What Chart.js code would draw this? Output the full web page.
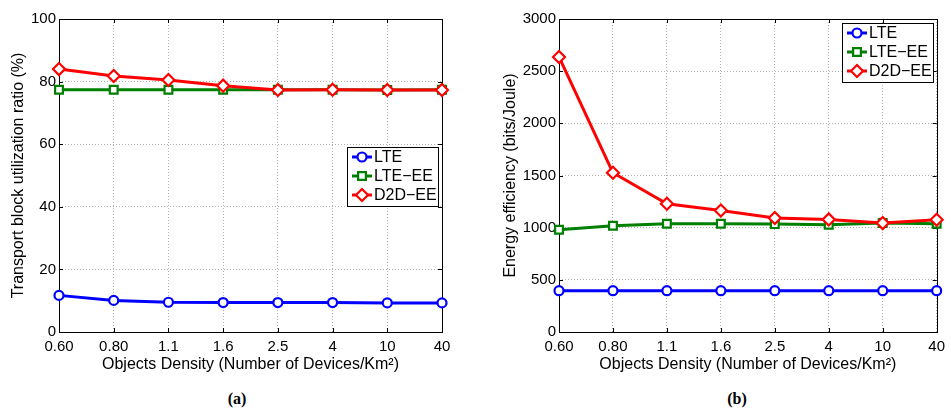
<!DOCTYPE html>
<html>
<head>
<meta charset="utf-8">
<script src="https://cdn.jsdelivr.net/npm/chart.js@4.4.0/dist/chart.umd.min.js"></script>
<style>
body { margin:0; background:#fff; width:951px; height:412px; position:relative; overflow:hidden; }
.box { position:absolute; top:0; height:380px; }
.cap { position:absolute; top:390px; width:80px; text-align:center; font: bold 16px "Liberation Serif", "DejaVu Serif", serif; }
</style>
</head>
<body>
<div class="box" style="left:0;width:475px"><canvas id="chartA"></canvas></div>
<div class="box" style="left:480px;width:471px"><canvas id="chartB"></canvas></div>
<div class="cap" style="left:197px">(a)</div>
<div class="cap" style="left:697px">(b)</div>
<script>
var densidade = ['0.60', '0.80', '1.1', '1.6', '2.5', '4', '10', '40'];
var nomes = ['LTE', 'LTE\u2212EE', 'D2D\u2212EE'];

// (a) transport block utilization ratio (%)
var utilLTE = [11.7, 10.1, 9.5, 9.4, 9.4, 9.4, 9.3, 9.3];
var utilLTEEE = [77.4, 77.4, 77.4, 77.4, 77.4, 77.4, 77.3, 77.4];
var utilD2D = [84.0, 81.8, 80.5, 78.7, 77.3, 77.4, 77.3, 77.3];

// (b) energy efficiency (bits/Joule)
var energiaLTE = [396, 396, 396, 396, 396, 396, 396, 396];
var energiaLTEEE = [980, 1018, 1037, 1037, 1034, 1028, 1044, 1037];
var energiaD2D = [2636, 1526, 1229, 1165, 1092, 1079, 1044, 1076];

var cores = ['#0000ff', '#008000', '#ff0000'];
var estilos = ['circle', 'rect', 'rectRot'];
var raios = [4.5, 5.5, 6];

Chart.defaults.font.family = '"Liberation Sans", Arial, sans-serif';
Chart.defaults.font.size = 15;
Chart.defaults.color = '#000';

// caixa preta em volta do grafico + marcas de escala para dentro (estilo matlab)
var moldura = {
  id: 'moldura',
  beforeDatasetsDraw(chart) {
    var ctx = chart.ctx, a = chart.chartArea;
    var sx = chart.scales.x, sy = chart.scales.y;
    ctx.save();
    ctx.strokeStyle = '#000';
    ctx.lineWidth = 1;
    ctx.strokeRect(Math.round(a.left) + 0.5, Math.round(a.top) + 0.5, Math.round(a.right - a.left), Math.round(a.bottom - a.top));
    ctx.beginPath();
    sy.ticks.forEach(function (t, i) {
      var y = Math.round(sy.getPixelForTick(i)) + 0.5;
      ctx.moveTo(a.left, y); ctx.lineTo(a.left + 4, y);
      ctx.moveTo(a.right, y); ctx.lineTo(a.right - 4, y);
    });
    sx.ticks.forEach(function (t, i) {
      var x = Math.round(sx.getPixelForTick(i)) + 0.5;
      ctx.moveTo(x, a.bottom); ctx.lineTo(x, a.bottom - 4);
      ctx.moveTo(x, a.top); ctx.lineTo(x, a.top + 4);
    });
    ctx.stroke();
    ctx.restore();
  }
};

var legendaMatlab = {
  id: 'legendaMatlab',
  afterDatasetsDraw(chart, args, opts) {
    var ctx = chart.ctx, a = chart.chartArea;
    var w = 91, h = 59;
    var x = Math.round(a.right - opts.right - w), y = Math.round(a.top + opts.top);
    ctx.save();
    ctx.fillStyle = '#fff';
    ctx.fillRect(x, y, w, h);
    ctx.strokeStyle = '#000';
    ctx.lineWidth = 1;
    ctx.strokeRect(x + 0.5, y + 0.5, w, h);
    chart.data.datasets.forEach(function (ds, i) {
      var yy = y + 10 + i * 19;
      ctx.strokeStyle = ds.borderColor;
      ctx.lineWidth = ds.borderWidth;
      ctx.beginPath();
      ctx.moveTo(x + 5, yy);
      ctx.lineTo(x + 25, yy);
      ctx.stroke();
      ctx.fillStyle = '#fff';
      ctx.lineWidth = ds.pointBorderWidth;
      Chart.helpers.drawPoint(ctx, { pointStyle: ds.pointStyle, radius: ds.pointRadius, rotation: 0, borderWidth: ds.pointBorderWidth }, x + 15, yy);
      ctx.fillStyle = '#000';
      ctx.font = '16px "Liberation Sans", Arial, sans-serif';
      ctx.textBaseline = 'middle';
      ctx.textAlign = 'left';
      ctx.fillText(ds.label, x + 27, yy + 1);
    });
    ctx.restore();
  }
};

function montaSeries(valores) {
  return valores.map(function (v, i) {
    return {
      label: nomes[i],
      data: v,
      borderColor: cores[i],
      backgroundColor: '#fff',
      borderWidth: 3,
      pointStyle: estilos[i],
      pointRadius: raios[i],
      pointBorderWidth: 2.2,
      pointBackgroundColor: '#fff',
      tension: 0,
      clip: false,
      order: 2 - i
    };
  });
}

function montaGrafico(id, valores, yMax, passo, tituloY, larguraY, padTitulo, padDireita, legTopo) {
  new Chart(document.getElementById(id), {
    type: 'line',
    data: { labels: densidade, datasets: montaSeries(valores) },
    options: {
      responsive: true,
      maintainAspectRatio: false,
      animation: false,
      layout: { padding: { top: 19, right: padDireita, left: 0, bottom: 0 } },
      plugins: {
        legend: { display: false },
        tooltip: { enabled: false },
        legendaMatlab: { right: 4, top: legTopo }
      },
      scales: {
        x: {
          grid: { color: '#b0b0b0', drawTicks: false },
          border: { display: false, dash: [1, 2] },
          ticks: { padding: 6, maxRotation: 0, autoSkip: false },
          title: { display: true, text: 'Objects Density (Number of Devices/Km\u00b2)', font: { size: 16 }, padding: { top: 0, bottom: 6 } },
          afterFit: function (s) { s.height = 48; }
        },
        y: {
          min: 0,
          max: yMax,
          grid: { color: '#b0b0b0', drawTicks: false },
          border: { display: false, dash: [1, 2] },
          ticks: { stepSize: passo, padding: 3, callback: function (v) { return String(v); } },
          title: { display: true, text: tituloY, font: { size: 16 }, padding: { top: padTitulo, bottom: 0 } },
          afterFit: function (s) { s.width = larguraY; }
        }
      }
    },
    plugins: [moldura, legendaMatlab]
  });
}

montaGrafico('chartA', [utilLTE, utilLTEEE, utilD2D], 100, 20, 'Transport block utilization ratio (%)', 59, 9, 33, 128);
montaGrafico('chartB', [energiaLTE, energiaLTEEE, energiaD2D], 3000, 500, 'Energy efficiency (bits/Joule)', 79, 21, 9, 4);
</script>
</body>
</html>
